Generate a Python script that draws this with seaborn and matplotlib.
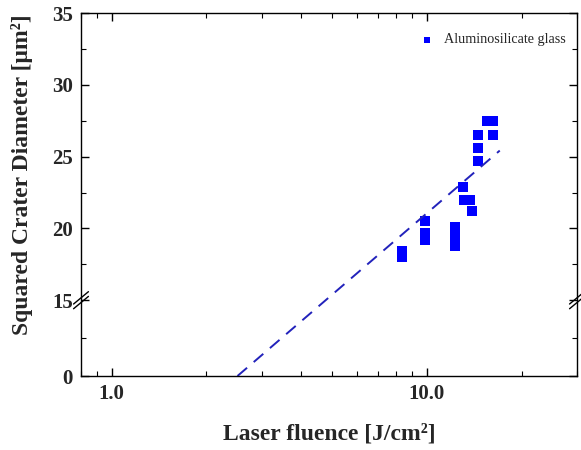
import numpy as np
import pandas as pd
import matplotlib
matplotlib.use("Agg")
import matplotlib.pyplot as plt
import seaborn as sns
from matplotlib.ticker import FixedLocator, NullFormatter, LogLocator

# ---- data ----
fluence = [8.33, 8.33, 9.86, 9.86, 9.86, 12.3, 12.3, 12.3, 13.0, 13.1, 13.7, 13.9,
           14.6, 14.6, 14.6, 15.5, 16.2, 16.2]
diameter_sq = [18.4, 18.0, 20.5, 19.7, 19.2, 20.1, 19.5, 18.75, 22.9, 22.0, 22.0, 21.2,
               26.5, 25.6, 24.7, 27.5, 27.5, 26.5]
fit_fluence = [2.51, 17.06]
fit_diameter_sq = [0.0, 25.42]
series_name = "Aluminosilicate glass"
y_ticks = [0, 15, 20, 25, 30, 35]
y_minor = [7.5, 17.5, 22.5, 27.5, 32.5]
x_ticks = [1.0, 10.0]
x_ticklabels = ["1.0", "10.0"]

sns.set_style("ticks")
plt.rcParams['font.family'] = ['Liberation Serif', 'DejaVu Serif']

df = pd.DataFrame({"F": fluence, "D2": diameter_sq})
fit = pd.DataFrame({"F": fit_fluence, "D2": fit_diameter_sq})

fig = plt.figure(figsize=(5.81, 4.5), dpi=100)
ax = fig.add_axes([81/581, 1-376/450, (577-81)/581, (376-13)/450])

K = (76/72) * 5 / 15
def fwd(y):
    y = np.asarray(y, dtype=float)
    return np.where(y < 15, 15 - (15 - y) * K, y)
def inv(t):
    t = np.asarray(t, dtype=float)
    return np.where(t < 15, 15 - (15 - t) / K, t)

ax.set_xscale('log')
ax.set_yscale('function', functions=(fwd, inv))

sns.lineplot(data=fit, x="F", y="D2", ax=ax, color="#2222bb", lw=1.4,
             dashes=False, linestyle=(0, (6.5, 4.5)), legend=False)
sns.scatterplot(data=df, x="F", y="D2", ax=ax, marker="s", s=52, color="#0000ff",
                edgecolor="none", linewidth=0, label=series_name)

ax.set_xlim(0.8, 30)
ax.set_ylim(0, 35)
ax.yaxis.set_major_locator(FixedLocator(y_ticks))
ax.yaxis.set_minor_locator(FixedLocator(y_minor))
ax.yaxis.set_minor_formatter(NullFormatter())
ax.set_yticks(y_ticks)
ax.set_yticklabels([str(v) for v in y_ticks])
ax.set_xticks(x_ticks)
ax.set_xticklabels(x_ticklabels)
ax.xaxis.set_minor_locator(LogLocator(base=10, subs=np.arange(2, 10)))
ax.xaxis.set_minor_formatter(NullFormatter())

for s in ax.spines.values():
    s.set_visible(True)
    s.set_linewidth(1.0)
    s.set_color("black")

ax.tick_params(which='both', direction='in', top=True, right=True, color='black')
ax.tick_params(which='major', length=6, width=1.0, pad=6)
ax.tick_params(which='minor', length=3.5, width=0.8)
for lab in ax.get_xticklabels() + ax.get_yticklabels():
    lab.set_fontweight('bold')
    lab.set_fontsize(15)

ax.set_xlabel("Laser fluence [J/cm²]", fontsize=17, fontweight='bold', labelpad=14)
ax.set_ylabel("Squared Crater Diameter [μm²]", fontsize=17, fontweight='bold')
ax.yaxis.set_label_coords(-0.097, 0.555)

# axis break marks
yb = (fwd(15) - fwd(0)) / (35 - fwd(0))
for xa in (0, 1):
    for dy in (-0.0065, 0.0065):
        ax.plot([xa - 0.015, xa + 0.015], [yb + dy - 0.017, yb + dy + 0.017],
                transform=ax.transAxes, color='black', lw=1.0, clip_on=False)

leg = ax.legend(loc='center right', bbox_to_anchor=(0.978, 0.926), frameon=False,
                fontsize=10.2, markerscale=0.6, handletextpad=0.2,
                borderaxespad=0, borderpad=0)

fig.savefig("out.png", dpi=100)
